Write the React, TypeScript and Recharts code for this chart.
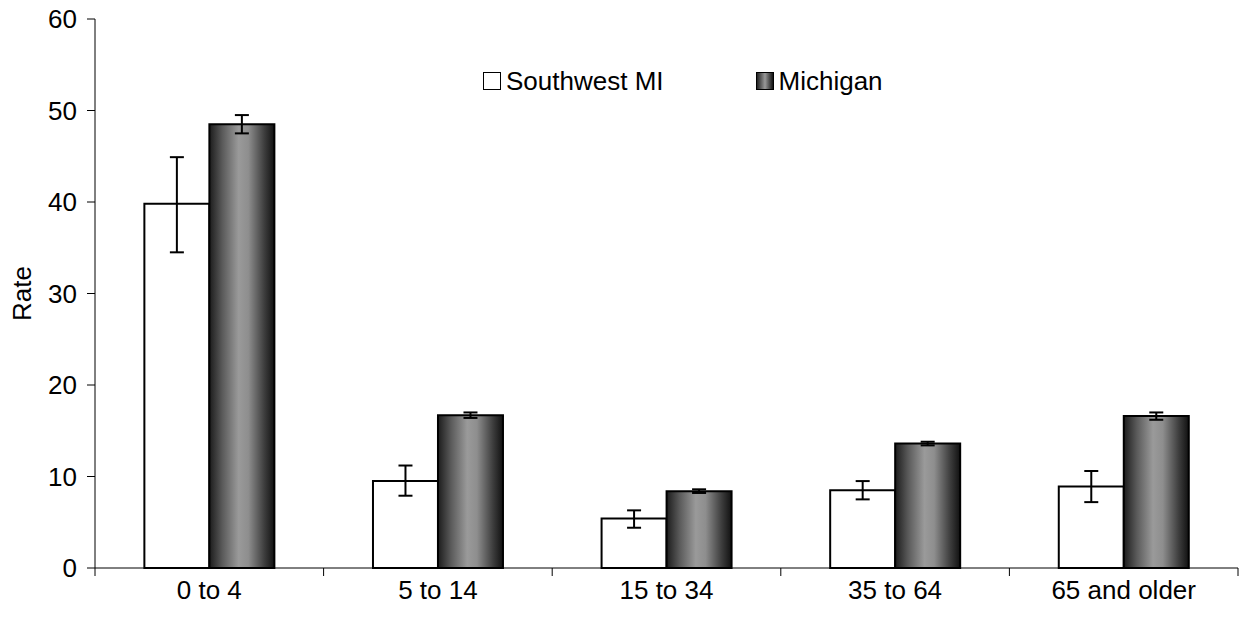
import { BarChart, Bar, XAxis, YAxis, ErrorBar, Legend } from 'recharts';

const categories = ['0 to 4', '5 to 14', '15 to 34', '35 to 64', '65 and older'];
const swRate = [39.8, 9.5, 5.4, 8.5, 8.9];
const swLow = [34.5, 7.9, 4.4, 7.5, 7.2];
const swHigh = [44.9, 11.2, 6.3, 9.5, 10.6];
const miRate = [48.5, 16.7, 8.4, 13.6, 16.6];
const miLow = [47.5, 16.4, 8.2, 13.4, 16.2];
const miHigh = [49.5, 17.0, 8.6, 13.8, 17.0];
const yTicks = [0, 10, 20, 30, 40, 50, 60];

const data = categories.map((name, i) => ({
  name,
  sw: swRate[i],
  swErr: [swRate[i] - swLow[i], swHigh[i] - swRate[i]],
  mi: miRate[i],
  miErr: [miRate[i] - miLow[i], miHigh[i] - miRate[i]],
}));

const FONT = '"Liberation Sans", Arial, sans-serif';
const FS = 26;

function CategoryTick({ x, y, payload, index, visibleTicksCount }: any) {
  const half = payload?.offset ?? 0;
  const last = index === (visibleTicksCount ?? categories.length) - 1;
  return (
    <g>
      <line x1={x - half} y1={y} x2={x - half} y2={y + 8} stroke="#000" strokeWidth={1} />
      {last && <line x1={x + half} y1={y} x2={x + half} y2={y + 8} stroke="#000" strokeWidth={1} />}
      <text x={x} y={y + 31} textAnchor="middle" fontSize={FS} fontFamily={FONT} fill="#000">
        {payload.value}
      </text>
    </g>
  );
}

function LegendBox() {
  const item = (label: string, bg: string, gap: number) => (
    <div style={{ display: 'flex', alignItems: 'center', marginRight: gap }}>
      <span
        style={{
          display: 'inline-block',
          width: 16,
          height: 16,
          border: '1.5px solid #000',
          background: bg,
          marginRight: 5,
        }}
      />
      <span>{label}</span>
    </div>
  );
  return (
    <div style={{ display: 'flex', fontFamily: FONT, fontSize: FS, color: '#000', lineHeight: '30px' }}>
      {item('Southwest MI', '#fff', 92)}
      {item('Michigan', 'linear-gradient(to right, #222, #999 50%, #111)', 0)}
    </div>
  );
}

export default function App() {
  return (
    <div style={{ position: 'absolute', left: 0, top: 0, width: 1239, height: 620, background: '#fff' }}>
      <BarChart
        width={1239}
        height={620}
        data={data}
        margin={{ top: 19, right: 1, bottom: 22, left: 0 }}
        barCategoryGap="21.6%"
        barGap={0}
      >
        <defs>
          <linearGradient id="miGrad" x1="0" y1="0" x2="1" y2="0">
            <stop offset="0%" stopColor="#1c1c1c" />
            <stop offset="20%" stopColor="#5a5a5a" />
            <stop offset="45%" stopColor="#9a9a9a" />
            <stop offset="60%" stopColor="#8e8e8e" />
            <stop offset="85%" stopColor="#3c3c3c" />
            <stop offset="100%" stopColor="#111" />
          </linearGradient>
        </defs>
        <XAxis
          dataKey="name"
          height={30}
          tickLine={false}
          tickSize={0}
          tickMargin={0}
          axisLine={{ stroke: '#000', strokeWidth: 1 }}
          tick={<CategoryTick />}
          interval={0}
        />
        <YAxis
          width={95}
          domain={[0, 60]}
          ticks={yTicks}
          tickSize={8}
          tickMargin={10}
          axisLine={{ stroke: '#000', strokeWidth: 1 }}
          tickLine={{ stroke: '#000', strokeWidth: 1 }}
          tick={{ fontSize: FS, fontFamily: FONT, fill: '#000' }}
          label={{
            value: 'Rate',
            angle: -90,
            position: 'insideLeft',
            offset: 22,
            style: { fontSize: FS, fontFamily: FONT, fill: '#000', textAnchor: 'middle' },
          }}
        />
        <Legend
          layout="horizontal"
          verticalAlign="middle"
          align="center"
          content={<LegendBox />}
          wrapperStyle={{ top: 66, left: 483, width: 'auto' }}
        />
        <Bar dataKey="sw" name="Southwest MI" fill="#fff" stroke="#000" strokeWidth={2} isAnimationActive={false}>
          <ErrorBar dataKey="swErr" width={7} stroke="#000" strokeWidth={2} isAnimationActive={false} />
        </Bar>
        <Bar dataKey="mi" name="Michigan" fill="url(#miGrad)" stroke="#000" strokeWidth={2} isAnimationActive={false}>
          <ErrorBar dataKey="miErr" width={7} stroke="#000" strokeWidth={2} isAnimationActive={false} />
        </Bar>
      </BarChart>
    </div>
  );
}
